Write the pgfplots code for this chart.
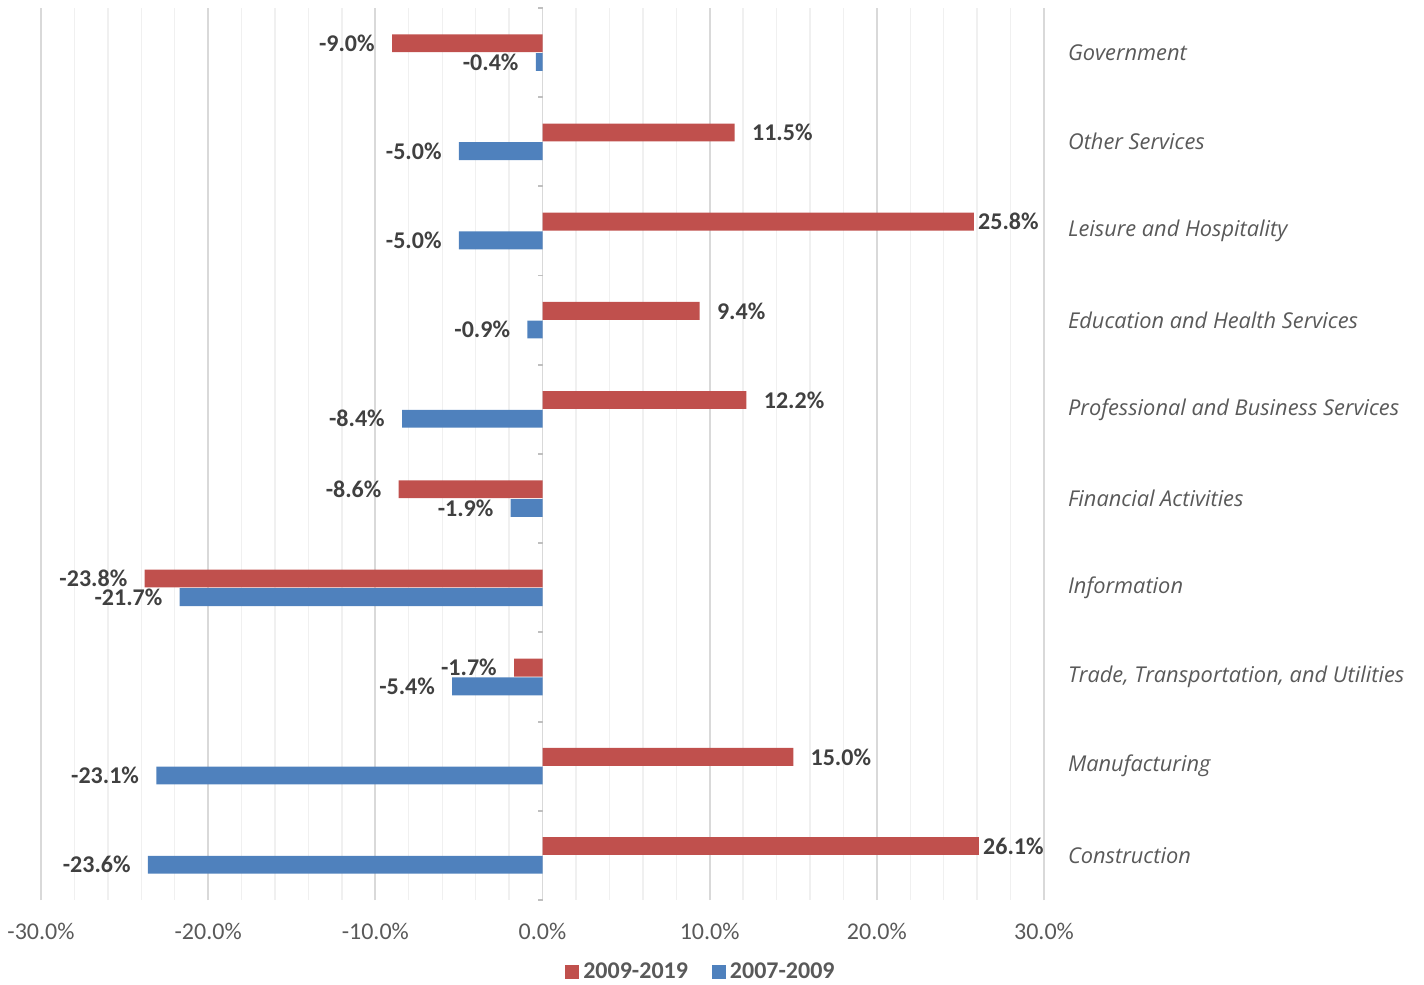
\documentclass[border=0pt]{standalone}
\usepackage{fontspec}
\setmainfont{Carlito}
\newfontfamily\catfont{Open Sans}
\usepackage{pgfplots}
\pgfplotsset{compat=1.18}
\definecolor{cred}{HTML}{C0504D}
\definecolor{cblue}{HTML}{4F81BD}
\definecolor{lbl}{HTML}{404040}
\definecolor{tickc}{HTML}{595959}
\begin{document}
\begin{tikzpicture}
\useasboundingbox (-20.5pt,-42.5pt) rectangle (691.5pt,450pt);
\begin{axis}[
  at={(0,0)}, anchor=south west,
  scale only axis, width=501.5pt, height=446pt,
  xmin=-30, xmax=30, ymin=-0.5, ymax=9.5,
  xbar, bar width=0.2,
  xtick={-30,-20,...,30},
  minor x tick num=4,
  xmajorgrids, xminorgrids,
  major grid style={draw=black!15, line width=0.9pt},
  minor grid style={draw=black!6, line width=0.7pt},
  major tick length=0, minor tick length=0,
  axis line style={draw=none},
  extra x ticks={0}, extra x tick labels={},
  extra x tick style={grid style={draw=black!22, line width=1.3pt}},
  xticklabel={\pgfmathprintnumber[fixed,fixed zerofill,precision=1,assume math mode=true]{\tick}\%},
  xticklabel style={font=\fontsize{12}{14}\selectfont, text=tickc, yshift=-8pt},
  ytick={0,...,9},
  yticklabels={Construction, Manufacturing, {Trade, Transportation, and Utilities}, Information, Financial Activities, Professional and Business Services, Education and Health Services, Leisure and Hospitality, Other Services, Government},
  yticklabel pos=right,
  yticklabel style={font=\catfont\itshape\fontsize{10.9}{12}\selectfont, text=tickc, anchor=west, xshift=8.5pt},
  point meta=x,
  nodes near coords={\pgfmathprintnumber[fixed,fixed zerofill,precision=1,assume math mode=true]{\pgfplotspointmeta}\%},
  nodes near coords style={font=\bfseries\fontsize{12}{14}\selectfont, text=lbl, inner xsep=8.5pt},
  nodes near coords align=horizontal,
  coordinate style/.condition={x > 25}{xshift=-6.5pt},
  legend style={at={(0.659,-0.081)}, anchor=center, draw=none, fill=none, legend columns=2,
    font=\bfseries\fontsize{12}{14}\selectfont, text=tickc,
    /tikz/every even column/.append style={column sep=10pt}},
  legend image code/.code={\draw[#1,draw=none] (0pt,-3.5pt) rectangle (7pt,3.5pt);},
]
\addplot[fill=cred, draw=none, bar shift=0.105] coordinates {(26.1,0) (15.0,1) (-1.7,2) (-23.8,3) (-8.6,4) (12.2,5) (9.4,6) (25.8,7) (11.5,8) (-9.0,9)};
\addplot[fill=cblue, draw=none, bar shift=-0.105] coordinates {(-23.6,0) (-23.1,1) (-5.4,2) (-21.7,3) (-1.9,4) (-8.4,5) (-0.9,6) (-5.0,7) (-5.0,8) (-0.4,9)};
\legend{2009-2019, 2007-2009}
\pgfplotsinvokeforeach{0,...,10}{\draw[black!25, line width=0.9pt] (axis cs:0,{#1-0.5}) -- ++(-2.5pt,0pt);}
\end{axis}
\end{tikzpicture}
\end{document}
